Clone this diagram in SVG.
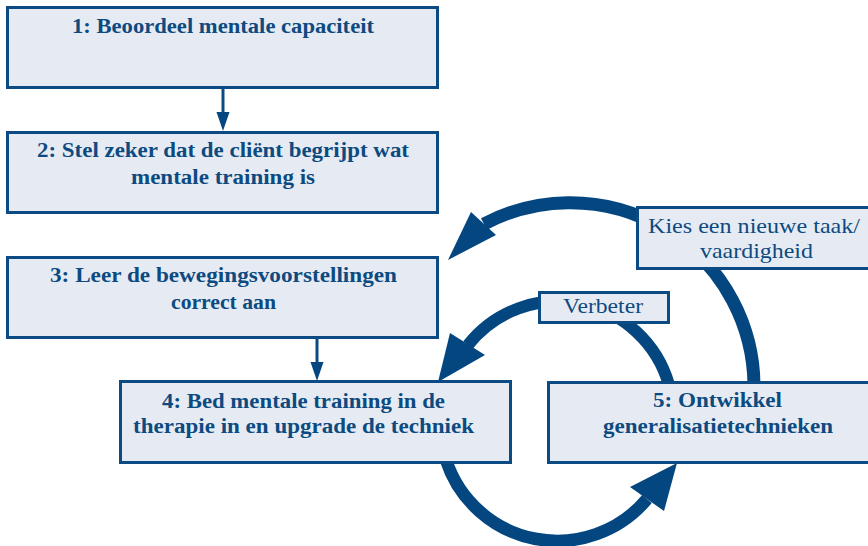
<svg xmlns="http://www.w3.org/2000/svg" width="868" height="546" viewBox="0 0 868 546">
<style>
.box{fill:#e6ebf3;stroke:#0b4a82;stroke-width:3}
text{font-family:'Liberation Serif','DejaVu Serif',serif;fill:#0d4a80;text-anchor:middle}
.t{font-weight:bold;font-size:20px}
.r{font-weight:normal;font-size:22px}
.arc{fill:none;stroke:#04467f}
.head{fill:#04467f}
.thin{stroke:#0b4a82;stroke-width:3;fill:none}
</style>
<rect width="868" height="546" fill="#ffffff"/>
<g id="connectors">
<line class="thin" x1="223" y1="88" x2="223" y2="114"/>
<polygon class="head" points="216.5,112 229.5,112 223,131"/>
<line class="thin" x1="317" y1="338" x2="317" y2="364"/>
<polygon class="head" points="310.5,362 323.5,362 317,381"/>
<path class="arc" stroke-width="13" d="M 754 385 A 184 184 0 0 0 484 224"/>
<polygon class="head" points="448,260 471,212 496,235"/>
<path class="arc" stroke-width="12" d="M 669 385 A 115 115 0 0 0 468 345"/>
<polygon class="head" points="438,382 450,333 485,355"/>
<path class="arc" stroke-width="12.5" d="M 446 460 A 117 117 0 0 0 647 499"/>
<polygon class="head" points="677,463 630,487 664,511"/>
</g>
<g id="node1">
<rect class="box" x="7.5" y="7.5" width="430" height="80"/>
<text class="t" x="223" y="33" textLength="302" lengthAdjust="spacingAndGlyphs">1: Beoordeel mentale capaciteit</text>
</g>
<g id="node2">
<rect class="box" x="7.5" y="132.5" width="430" height="80"/>
<text class="t" x="223" y="157" textLength="372" lengthAdjust="spacingAndGlyphs">2: Stel zeker dat de cliënt begrijpt wat</text>
<text class="t" x="223" y="184" textLength="184" lengthAdjust="spacingAndGlyphs">mentale training is</text>
</g>
<g id="node3">
<rect class="box" x="7.5" y="257.5" width="430" height="80"/>
<text class="t" x="223.5" y="282" textLength="347" lengthAdjust="spacingAndGlyphs">3: Leer de bewegingsvoorstellingen</text>
<text class="t" x="223.5" y="309" textLength="105" lengthAdjust="spacingAndGlyphs">correct aan</text>
</g>
<g id="node4">
<rect class="box" x="120.5" y="381.5" width="390" height="81"/>
<text class="t" x="303.5" y="408" textLength="283" lengthAdjust="spacingAndGlyphs">4: Bed mentale training in de</text>
<text class="t" x="303.5" y="433" textLength="341" lengthAdjust="spacingAndGlyphs">therapie in en upgrade de techniek</text>
</g>
<g id="node5">
<rect class="box" x="548.5" y="382.5" width="338" height="80"/>
<text class="t" x="717.5" y="407" textLength="129" lengthAdjust="spacingAndGlyphs">5: Ontwikkel</text>
<text class="t" x="718" y="433" textLength="230" lengthAdjust="spacingAndGlyphs">generalisatietechnieken</text>
</g>
<g id="label-kies">
<rect class="box" x="637.5" y="207.5" width="234" height="61"/>
<text class="r" x="754" y="233" textLength="212" lengthAdjust="spacingAndGlyphs">Kies een nieuwe taak/</text>
<text class="r" x="756.5" y="258" textLength="113" lengthAdjust="spacingAndGlyphs">vaardigheid</text>
</g>
<g id="label-verbeter">
<rect class="box" x="539.5" y="292.5" width="129" height="30"/>
<text class="r" x="603" y="313" textLength="80" lengthAdjust="spacingAndGlyphs">Verbeter</text>
</g>
</svg>
